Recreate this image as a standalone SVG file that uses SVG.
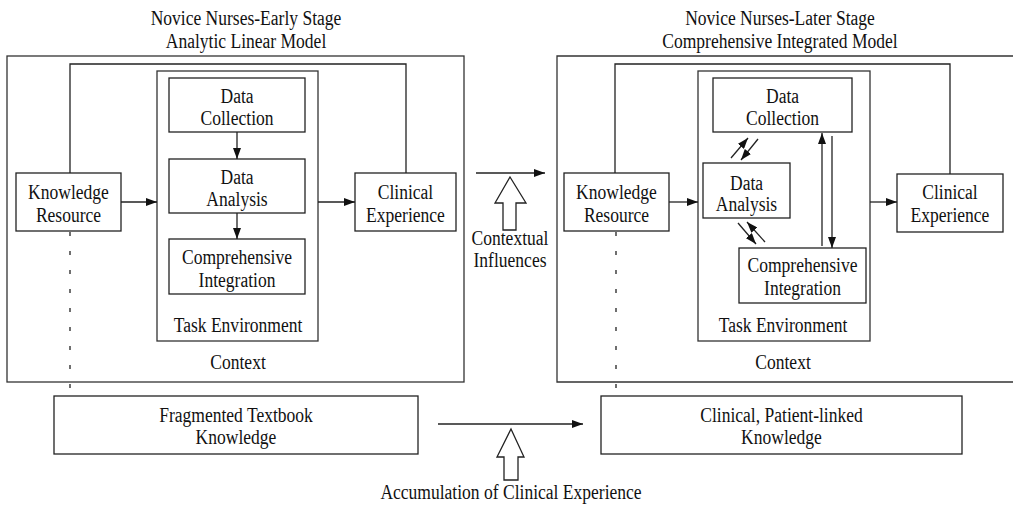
<svg xmlns="http://www.w3.org/2000/svg" width="1013" height="506" viewBox="0 0 1013 506">
<style>
text{font-family:"Liberation Serif","Times New Roman",serif;font-size:20.5px;fill:#111;text-anchor:middle;transform-box:fill-box;transform-origin:center;transform:scaleX(0.855)}
.box{fill:#fff;stroke:#222;stroke-width:1.3}
.frame{fill:none;stroke:#333;stroke-width:1.3}
.ln{fill:none;stroke:#222;stroke-width:1.3}
.arr{fill:none;stroke:#222;stroke-width:1.3;marker-end:url(#ah)}
.dot{fill:none;stroke:#222;stroke-width:1.3;stroke-dasharray:4 15}
.hollow{fill:#fff;stroke:#222;stroke-width:1.3}
</style>
<defs>
<marker id="ah" markerUnits="userSpaceOnUse" markerWidth="11" markerHeight="8" refX="11" refY="4" orient="auto">
<path d="M0,0 L11,4 L0,8 z" fill="#111"/>
</marker>
</defs>

<!-- Left panel -->
<g id="left-title">
<text x="246" y="25">Novice Nurses-Early Stage</text>
<text x="246" y="48">Analytic Linear Model</text>
</g>
<g id="left-context">
<rect class="frame" x="7" y="56" width="457" height="326"/>
<text x="238" y="369">Context</text>
</g>
<g id="left-task-env">
<rect class="frame" x="157" y="71" width="161" height="270"/>
<text x="238" y="332">Task Environment</text>
</g>
<g id="left-data-collection">
<rect class="box" x="169" y="78" width="136" height="54"/>
<text x="237" y="103">Data</text>
<text x="237" y="125">Collection</text>
</g>
<g id="left-data-analysis">
<rect class="box" x="169" y="159" width="136" height="54"/>
<text x="237" y="184">Data</text>
<text x="237" y="206">Analysis</text>
</g>
<g id="left-comprehensive">
<rect class="box" x="169" y="239" width="136" height="55"/>
<text x="237" y="264">Comprehensive</text>
<text x="237" y="287">Integration</text>
</g>
<g id="left-knowledge">
<rect class="box" x="16" y="173" width="105" height="58"/>
<text x="68.5" y="199">Knowledge</text>
<text x="68.5" y="222">Resource</text>
</g>
<g id="left-clinical">
<rect class="box" x="355" y="173" width="101" height="58"/>
<text x="405.5" y="199">Clinical</text>
<text x="405.5" y="222">Experience</text>
</g>
<g id="left-fragmented">
<rect class="box" x="54" y="396" width="364" height="58"/>
<text x="236" y="422">Fragmented Textbook</text>
<text x="236" y="444">Knowledge</text>
</g>

<!-- Right panel -->
<g id="right-title">
<text x="780" y="25">Novice Nurses-Later Stage</text>
<text x="780" y="48">Comprehensive Integrated Model</text>
</g>
<g id="right-context">
<path class="frame" d="M1015,56 H557 V382 H1015"/>
<text x="783" y="369">Context</text>
</g>
<g id="right-task-env">
<rect class="frame" x="698" y="71" width="172" height="270"/>
<text x="783" y="332">Task Environment</text>
</g>
<g id="right-data-collection">
<rect class="box" x="713" y="78" width="139" height="54"/>
<text x="782.5" y="103">Data</text>
<text x="782.5" y="125">Collection</text>
</g>
<g id="right-data-analysis">
<rect class="box" x="703" y="163" width="87" height="55"/>
<text x="746.5" y="190">Data</text>
<text x="746.5" y="211">Analysis</text>
</g>
<g id="right-comprehensive">
<rect class="box" x="739" y="248" width="127" height="55"/>
<text x="802.5" y="272">Comprehensive</text>
<text x="802.5" y="295">Integration</text>
</g>
<g id="right-knowledge">
<rect class="box" x="564" y="173" width="105" height="58"/>
<text x="616.5" y="199">Knowledge</text>
<text x="616.5" y="222">Resource</text>
</g>
<g id="right-clinical">
<rect class="box" x="897" y="174" width="106" height="58"/>
<text x="950" y="199">Clinical</text>
<text x="950" y="222">Experience</text>
</g>
<g id="right-patient-linked">
<rect class="box" x="601" y="396" width="361" height="58"/>
<text x="781.5" y="422">Clinical, Patient-linked</text>
<text x="781.5" y="444">Knowledge</text>
</g>

<!-- Middle labels -->
<g id="contextual-influences">
<polygon class="hollow" points="510,177 526,203 516,203 516,230 503,230 503,203 495,203"/>
<text x="510" y="245">Contextual</text>
<text x="510" y="267">Influences</text>
</g>
<g id="accumulation">
<polygon class="hollow" points="511,429 524,457 518,457 518,480 504,480 504,457 497,457"/>
<text x="511" y="499">Accumulation of Clinical Experience</text>
</g>

<!-- Connectors -->
<g id="connectors">
<line class="arr" x1="121" y1="202" x2="157" y2="202"/>
<line class="arr" x1="318" y1="202" x2="355" y2="202"/>
<line class="arr" x1="237" y1="132" x2="237" y2="159"/>
<line class="arr" x1="237" y1="213" x2="237" y2="239"/>
<polyline class="ln" points="70,173 70,64 406,64 406,173"/>
<line class="dot" x1="70" y1="232" x2="70" y2="390"/>

<line class="arr" x1="669" y1="202" x2="698" y2="202"/>
<line class="arr" x1="870" y1="202" x2="897" y2="202"/>
<polyline class="ln" points="615,173 615,64 950,64 950,174"/>
<line class="dot" x1="616" y1="232" x2="616" y2="390"/>
<line class="arr" x1="822" y1="246" x2="822" y2="133"/>
<line class="arr" x1="832" y1="136" x2="832" y2="248"/>
<line class="arr" x1="731" y1="158" x2="748" y2="138"/>
<line class="arr" x1="758" y1="139" x2="741" y2="160"/>
<line class="arr" x1="738" y1="223" x2="756" y2="244"/>
<line class="arr" x1="765" y1="242" x2="747" y2="222"/>

<line class="arr" x1="476" y1="173" x2="545" y2="173"/>
<line class="arr" x1="438" y1="424" x2="583" y2="424"/>
</g>
</svg>
